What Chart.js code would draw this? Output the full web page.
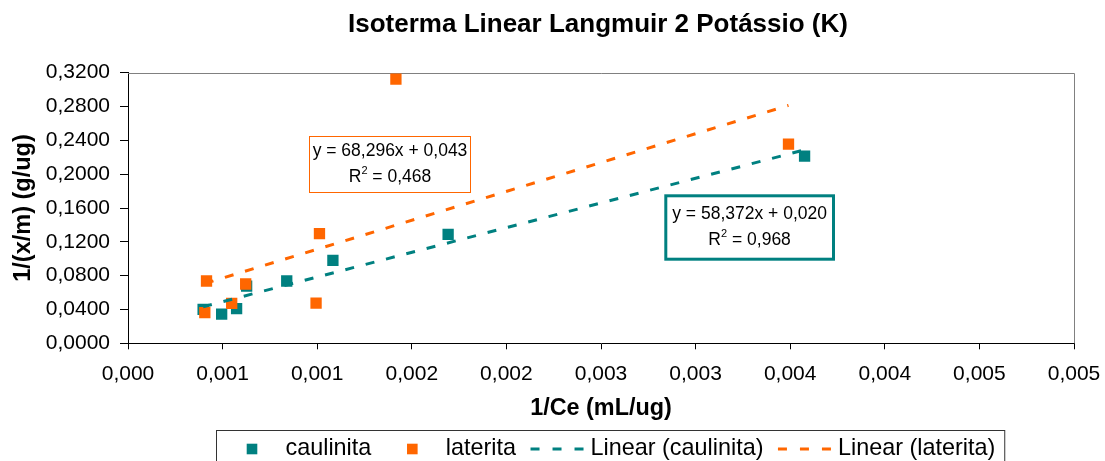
<!DOCTYPE html>
<html>
<head>
<meta charset="utf-8">
<script src="https://cdn.jsdelivr.net/npm/chart.js@4.4.1/dist/chart.umd.min.js"></script>
<style>
  html, body { margin: 0; padding: 0; background: #fff; }
</style>
</head>
<body>
<canvas id="chart" width="1105" height="461"></canvas>
<script>
// values
var caulinitaX = [0.000397, 0.000495, 0.000574, 0.000627, 0.000839, 0.001083, 0.001692, 0.003576];
var caulinitaY = [0.0402, 0.0346, 0.0409, 0.0677, 0.0737, 0.0981, 0.1289, 0.2214];
var lateritaX = [0.000406, 0.000415, 0.000548, 0.000622, 0.000994, 0.001012, 0.001416, 0.003491];
var lateritaY = [0.0362, 0.0737, 0.0473, 0.0701, 0.0476, 0.1296, 0.3124, 0.2356];

// trendline equations as printed on the chart
var caulinitaFit = { slope: 58.372, intercept: 0.020, r2: "0,968" };
var lateritaFit = { slope: 68.296, intercept: 0.043, r2: "0,468" };

var xTicks = [0, 0.0005, 0.001, 0.0015, 0.002, 0.0025, 0.003, 0.0035, 0.004, 0.0045, 0.005];
var xTickLabels = ["0,000", "0,001", "0,001", "0,002", "0,002", "0,003", "0,003", "0,004", "0,004", "0,005", "0,005"];
var yTicks = [0, 0.04, 0.08, 0.12, 0.16, 0.20, 0.24, 0.28, 0.32];
var yTickLabels = ["0,0000", "0,0400", "0,0800", "0,1200", "0,1600", "0,2000", "0,2400", "0,2800", "0,3200"];

var TEAL = "#008080";
var ORANGE = "#FF6600";
var FONT = "'Liberation Sans', Arial, sans-serif";

function points(xs, ys) {
  return xs.map(function (x, i) { return { x: x, y: ys[i] }; });
}

// Excel trendline runs from the smallest to the largest x of the series
function trend(xs, fit) {
  var lo = Math.min.apply(null, xs), hi = Math.max.apply(null, xs);
  return [
    { x: lo, y: fit.slope * lo + fit.intercept },
    { x: hi, y: fit.slope * hi + fit.intercept },
  ];
}

function fmt(n) {
  return n.toFixed(3).replace(".", ",");
}

// draw "R2 = value" with a raised 2, centred on cx
function drawR2(ctx, cx, cy, value) {
  var big = "17.5px " + FONT, small = "11px " + FONT;
  ctx.font = big;
  var wR = ctx.measureText("R").width;
  var rest = " = " + value;
  var wRest = ctx.measureText(rest).width;
  ctx.font = small;
  var w2 = ctx.measureText("2").width;
  var x = cx - (wR + w2 + wRest) / 2;
  ctx.textAlign = "left";
  ctx.textBaseline = "middle";
  ctx.font = big;
  ctx.fillText("R", x, cy);
  ctx.font = small;
  ctx.fillText("2", x + wR, cy - 6);
  ctx.font = big;
  ctx.fillText(rest, x + wR + w2, cy);
}

var ctx = document.getElementById("chart");

var myChart = new Chart(ctx, {
  type: "scatter",
  data: {
    datasets: [
      {
        label: "caulinita",
        data: points(caulinitaX, caulinitaY),
        pointStyle: "rect",
        pointRadius: 8,
        pointBorderWidth: 0,
        backgroundColor: TEAL,
        borderColor: TEAL,
        order: 4,
      },
      {
        label: "laterita",
        data: points(lateritaX, lateritaY),
        pointStyle: "rect",
        pointRadius: 8,
        pointBorderWidth: 0,
        backgroundColor: ORANGE,
        borderColor: ORANGE,
        order: 3,
      },
      {
        type: "line",
        label: "Linear (caulinita)",
        data: trend(caulinitaX, caulinitaFit),
        borderColor: TEAL,
        borderWidth: 3,
        borderDash: [9, 12],
        pointRadius: 0,
        fill: false,
        order: 2,
      },
      {
        type: "line",
        label: "Linear (laterita)",
        data: trend(lateritaX, lateritaFit),
        borderColor: ORANGE,
        borderWidth: 3,
        borderDash: [9, 12],
        pointRadius: 0,
        fill: false,
        order: 1,
      },
    ],
  },
  options: {
    responsive: false,
    animation: false,
    events: [],
    layout: {
      padding: { top: 72.7, right: 31, bottom: 0, left: 0 },
    },
    plugins: {
      legend: { display: false },
      title: { display: false },
      tooltip: { enabled: false },
    },
    scales: {
      x: {
        type: "linear",
        min: 0,
        max: 0.005,
        afterBuildTicks: function (scale) {
          scale.ticks = xTicks.map(function (v) { return { value: v }; });
        },
        afterFit: function (scale) {
          scale.height = 117.7;
          // keep the plot area fixed; the edge labels fit in the margins
          scale.paddingLeft = 0;
          scale.paddingRight = 0;
        },
        ticks: {
          autoSkip: false,
          maxRotation: 0,
          padding: 12.5,
          color: "#000",
          font: { family: FONT, size: 21 },
          callback: function (value, index) {
            return xTickLabels[index];
          },
        },
        grid: { drawOnChartArea: false, drawTicks: true, tickLength: 6, color: "#000" },
        border: { color: "#000", width: 1 },
        title: {
          display: true,
          text: "1/Ce (mL/ug)",
          color: "#000",
          font: { family: FONT, size: 23.4, weight: "bold" },
          padding: { top: 0, bottom: 38 },
        },
      },
      y: {
        type: "linear",
        min: 0,
        max: 0.32,
        afterBuildTicks: function (scale) {
          scale.ticks = yTicks.map(function (v) { return { value: v }; });
        },
        afterFit: function (scale) {
          scale.width = 128;
        },
        ticks: {
          autoSkip: false,
          padding: 10,
          color: "#000",
          font: { family: FONT, size: 21 },
          callback: function (value, index) {
            return yTickLabels[index];
          },
        },
        grid: { drawOnChartArea: false, drawTicks: true, tickLength: 8, color: "#000" },
        border: { color: "#000", width: 1 },
        title: {
          display: true,
          text: "1/(x/m) (g/ug)",
          color: "#000",
          font: { family: FONT, size: 23.5, weight: "bold" },
          padding: { top: 9, bottom: 0 },
        },
      },
    },
  },
  plugins: [
    {
      // white page, chart title and grey top/right frame
      id: "frame",
      beforeDraw: function (chart) {
        var c = chart.ctx;
        c.save();
        c.fillStyle = "#fff";
        c.fillRect(0, 0, chart.width, chart.height);
        c.fillStyle = "#000";
        c.font = "bold 26px " + FONT;
        c.textAlign = "center";
        c.textBaseline = "middle";
        c.fillText("Isoterma Linear Langmuir 2 Potássio (K)", 598, 25);
        c.restore();
      },
      beforeDatasetsDraw: function (chart) {
        var c = chart.ctx, a = chart.chartArea;
        c.save();
        c.strokeStyle = "#808080";
        c.lineWidth = 1;
        c.beginPath();
        c.moveTo(a.left, Math.round(a.top) + 0.5);
        c.lineTo(Math.round(a.right) + 0.5, Math.round(a.top) + 0.5);
        c.lineTo(Math.round(a.right) + 0.5, a.bottom);
        c.stroke();
        c.restore();
      },
    },
    {
      // trendline equation boxes
      id: "trendLabels",
      afterDatasetsDraw: function (chart) {
        var c = chart.ctx;
        c.save();
        // laterita box
        c.fillStyle = "#fff";
        c.fillRect(309.5, 136.5, 161, 56);
        c.strokeStyle = ORANGE;
        c.lineWidth = 1;
        c.strokeRect(309.5, 136.5, 161, 56);
        c.fillStyle = "#000";
        c.font = "17.5px " + FONT;
        c.textAlign = "center";
        c.textBaseline = "middle";
        c.fillText("y = " + fmt(lateritaFit.slope) + "x + " + fmt(lateritaFit.intercept), 390, 151);
        drawR2(c, 390, 177, lateritaFit.r2);
        // caulinita box
        c.fillStyle = "#fff";
        c.fillRect(665.8, 195.8, 167.7, 63.4);
        c.strokeStyle = TEAL;
        c.lineWidth = 3;
        c.strokeRect(665.8, 195.8, 167.7, 63.4);
        c.fillStyle = "#000";
        c.font = "17.5px " + FONT;
        c.textAlign = "center";
        c.fillText("y = " + fmt(caulinitaFit.slope) + "x + " + fmt(caulinitaFit.intercept), 749.6, 214.5);
        drawR2(c, 749.6, 240, caulinitaFit.r2);
        c.restore();
      },
    },
    {
      // boxed legend under the axis title, built from the datasets
      id: "boxLegend",
      afterDraw: function (chart) {
        var c = chart.ctx;
        var left = 216, top = 430.5, textY = 449;
        var symW = 54, symGap = 6.5, itemGap = 14, pad = 9;
        var sets = chart.data.datasets;
        c.save();
        c.font = "23.4px " + FONT;
        var total = pad * 2 + itemGap * (sets.length - 1);
        sets.forEach(function (ds) {
          total += symW + symGap + c.measureText(ds.label).width;
        });
        c.strokeStyle = "#333";
        c.lineWidth = 1;
        c.strokeRect(left + 0.5, top, total, 60);
        var x = left + pad;
        sets.forEach(function (ds) {
          if (ds.type === "line") {
            c.strokeStyle = ds.borderColor;
            c.lineWidth = 3;
            c.setLineDash([9, 13]);
            c.beginPath();
            c.moveTo(x + 0.5, textY);
            c.lineTo(x + symW, textY);
            c.stroke();
            c.setLineDash([]);
          } else {
            c.fillStyle = ds.backgroundColor;
            c.fillRect(x + symW / 2 - 5.3, textY - 5.3, 10.6, 10.6);
          }
          x += symW + symGap;
          c.fillStyle = "#000";
          c.textAlign = "left";
          c.textBaseline = "middle";
          c.fillText(ds.label, x, textY);
          x += c.measureText(ds.label).width + itemGap;
        });
        c.restore();
      },
    },
  ],
});
</script>
</body>
</html>
